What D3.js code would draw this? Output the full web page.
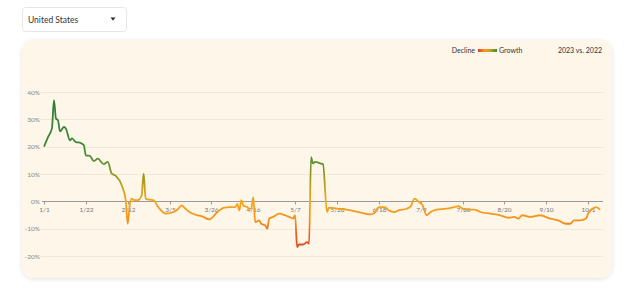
<!DOCTYPE html>
<html>
<head>
<meta charset="utf-8">
<script src="https://cdn.jsdelivr.net/npm/d3@7"></script>
<style>
body { margin: 0; background: #fff; font-family: Lato, "Open Sans", sans-serif; }
svg { display: block; }
</style>
</head>
<body>
<div id="chart"></div>
<script>
// days since 1/1/2023 and growth (%) vs 2022
var days = [0, 2, 4, 5, 6, 7, 8, 10, 11, 13, 14, 16, 18, 20, 21, 23, 25, 27, 30, 32,
  34, 36, 39, 41, 42, 43, 44, 45, 47, 49, 50, 51, 53, 55, 57, 59, 61, 65, 67, 69,
  71, 73, 77, 79, 83, 87, 90, 93, 96, 97, 98, 99, 100, 102, 103, 104, 105, 106, 108, 109,
  111, 112, 113, 115, 118, 121, 123, 125, 126, 127, 128, 130, 132, 133, 134, 135, 136, 139, 140, 142,
  143, 147, 152, 154, 159, 164, 166, 168, 171, 173, 176, 178, 182, 184, 186, 188, 190, 192, 194, 197,
  202, 206, 208, 211, 216, 219, 224, 229, 233, 236, 238, 240, 244, 249, 254, 258, 262, 264, 266, 269,
  272, 273, 276, 277, 279];
var growth = [20, 23.5, 26.8, 37, 30.3, 29.7, 25.6, 27.2, 26.6, 22.3, 23, 21.7, 21.5, 20.5, 16.8, 16.6, 14.7, 15.6, 13.6, 14.4,
  10.1, 9.3, 5.9, 0.5, -8.2, -1.5, 1, 0.5, 0.4, 2.2, 10.1, 1, 0.6, 0.4, -1.8, -3.5, -4.5, -3.9, -3, -1.5,
  -2.7, -3.9, -5.1, -5.4, -6.6, -3.9, -2.4, -2.1, -2.1, -0.9, -3.3, 0.4, -1.5, -2.1, -2.7, -2.7, 1.5, -7.6, -7, -8.2,
  -8.8, -10, -6.3, -5.7, -4.5, -5.1, -5.7, -6.3, -5.1, -16.7, -15.8, -15.8, -14.9, -15.5, 16.2, 13.8, 14.4, 13.8, 13.6, -3.9,
  -2.3, -2.7, -3, -3.3, -4.1, -4.8, -4.1, -2.1, -2.1, -3.3, -3.9, -3.3, -2.7, -1.8, 1, -0.2, -1.5, -5.1, -3.9, -3,
  -2.7, -2.1, -1.8, -3, -3, -3.9, -4.5, -5.1, -6, -5.7, -6.3, -5.1, -5.7, -5.1, -6.3, -7, -8.2, -8.2, -7, -7,
  -6.3, -4.5, -2.4, -2.1, -3];

var tickLabels = ["1/1", "1/22", "2/12", "3/5", "3/26", "4/16", "5/7", "5/28", "6/18", "7/9", "7/30", "8/20", "9/10", "10/1"];
var yTicks = [-20, -10, 0, 10, 20, 30, 40];
var country = "United States";
var compareLabel = "2023 vs. 2022";

var w = 640, h = 303;
var start = new Date(2023, 0, 1);
function dayOf(label) {
  var p = label.split("/");
  return d3.timeDay.count(start, new Date(2023, +p[0] - 1, +p[1]));
}

var svg = d3.select("#chart").append("svg")
  .attr("width", w).attr("height", h);

var defs = svg.append("defs");
var shadow = defs.append("filter").attr("id", "shadow")
  .attr("x", "-5%").attr("y", "-5%").attr("width", "110%").attr("height", "115%");
shadow.append("feDropShadow").attr("dx", 0).attr("dy", 1).attr("stdDeviation", 2)
  .attr("flood-color", "#000").attr("flood-opacity", 0.12);

// dropdown
var dd = svg.append("g");
dd.append("rect").attr("x", 22.5).attr("y", 7.5).attr("width", 104).attr("height", 24)
  .attr("rx", 3).attr("fill", "#fff").attr("stroke", "#e6e6e6");
dd.append("text").attr("x", 28).attr("y", 22.5).attr("font-size", 8.5).attr("fill", "#333")
  .text(country);
dd.append("path").attr("d", "M110.5 17.5 L115.5 17.5 L113 20.5 Z").attr("fill", "#222");

// card
svg.append("rect").attr("x", 22).attr("y", 40).attr("width", 590).attr("height", 238)
  .attr("rx", 12).attr("fill", "#fdf6e9").attr("filter", "url(#shadow)");

var x = d3.scaleLinear().domain([0, 280]).range([44, 602]);
var y = d3.scaleLinear().domain([-20, 40]).range([256, 92]);

// colour by value
var stops = [[-20, "#dc3a22"], [-13, "#ea5a1c"], [-7, "#f5911a"], [0, "#f7a51c"], [4, "#d4a21d"],
             [9, "#9a9a22"], [14, "#62922e"], [20, "#3c8a38"], [40, "#2c7c3c"]];
var grad = defs.append("linearGradient").attr("id", "valgrad")
  .attr("gradientUnits", "userSpaceOnUse")
  .attr("x1", 0).attr("x2", 0).attr("y1", y(-20)).attr("y2", y(40));
grad.selectAll("stop").data(stops).enter().append("stop")
  .attr("offset", function(d) { return (d[0] + 20) / 60; })
  .attr("stop-color", function(d) { return d[1]; });

var lg = defs.append("linearGradient").attr("id", "legrad");
lg.selectAll("stop").data([["0", "#e53a22"], ["0.35", "#f39a1a"], ["0.6", "#c7a420"], ["1", "#3c8a38"]])
  .enter().append("stop")
  .attr("offset", function(d) { return d[0]; })
  .attr("stop-color", function(d) { return d[1]; });

// gridlines
svg.append("g").selectAll("line").data(yTicks.filter(function(d) { return d != 0; }))
  .enter().append("line")
  .attr("x1", 40).attr("x2", 603)
  .attr("y1", function(d) { return Math.round(y(d)) + 0.5; })
  .attr("y2", function(d) { return Math.round(y(d)) + 0.5; })
  .attr("stroke", "#f1e8d8").attr("stroke-width", 1);

// y labels
svg.append("g").selectAll("text").data(yTicks).enter().append("text")
  .attr("x", 40).attr("y", function(d) { return y(d) + 2.5; })
  .attr("text-anchor", "end").attr("font-size", 6.5).attr("fill", "#888")
  .text(function(d) { return d + "%"; });

// zero axis with ticks
var zy = Math.round(y(0)) + 0.5;
svg.append("line").attr("x1", 42).attr("x2", 603).attr("y1", zy).attr("y2", zy)
  .attr("stroke", "#9a9a9a").attr("stroke-width", 1);
var xt = svg.append("g").selectAll("g").data(tickLabels).enter().append("g")
  .attr("transform", function(d) { return "translate(" + (Math.round(x(dayOf(d))) + 0.5) + "," + zy + ")"; });
xt.append("line").attr("y1", 0).attr("y2", 3).attr("stroke", "#9a9a9a");
xt.append("text").attr("y", 10).attr("text-anchor", "middle").attr("font-size", 6.5)
  .attr("fill", "#777").text(function(d) { return d; });

// series
var pts = days.map(function(d, i) { return [d, growth[i]]; });
var line = d3.line()
  .x(function(d) { return x(d[0]); })
  .y(function(d) { return y(d[1]); })
  .curve(d3.curveMonotoneX);
svg.append("path").datum(pts)
  .attr("d", line)
  .attr("fill", "none")
  .attr("stroke", "url(#valgrad)")
  .attr("stroke-width", 1.8)
  .attr("stroke-linejoin", "round");

// legend
var leg = svg.append("g").attr("font-size", 7).attr("fill", "#333");
leg.append("text").attr("x", 475).attr("y", 53).attr("text-anchor", "end").text("Decline");
leg.append("rect").attr("x", 478).attr("y", 49).attr("width", 19).attr("height", 3).attr("fill", "url(#legrad)");
leg.append("text").attr("x", 499).attr("y", 53).text("Growth");
leg.append("text").attr("x", 602).attr("y", 53).attr("text-anchor", "end").text(compareLabel);
</script>
</body>
</html>
